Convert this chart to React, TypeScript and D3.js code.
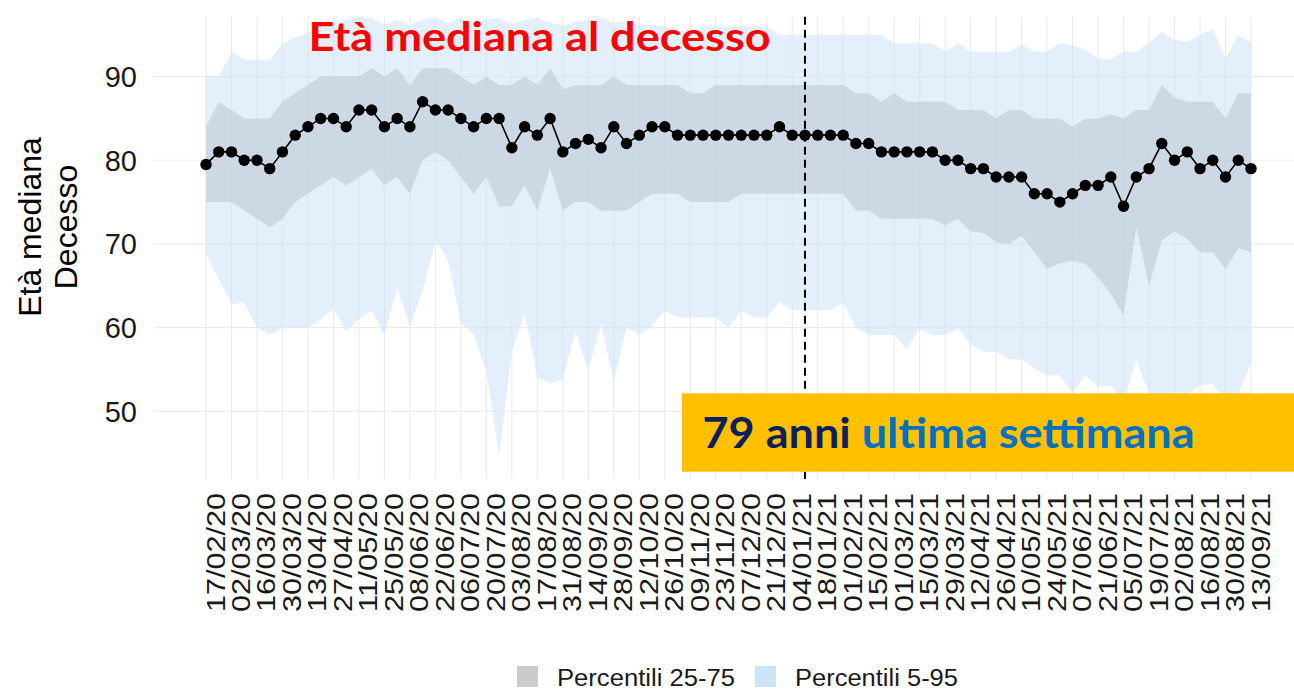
import React from "react";
import * as d3 from "d3";

// ---- DATA ----
const tickLabels = [
  "17/02/20","02/03/20","16/03/20","30/03/20","13/04/20","27/04/20","11/05/20","25/05/20",
  "08/06/20","22/06/20","06/07/20","20/07/20","03/08/20","17/08/20","31/08/20","14/09/20",
  "28/09/20","12/10/20","26/10/20","09/11/20","23/11/20","07/12/20","21/12/20","04/01/21",
  "18/01/21","01/02/21","15/02/21","01/03/21","15/03/21","29/03/21","12/04/21","26/04/21",
  "10/05/21","24/05/21","07/06/21","21/06/21","05/07/21","19/07/21","02/08/21","16/08/21",
  "30/08/21","13/09/21",
];

const median = [
  79.5, 81, 81, 80, 80, 79, 81, 83, 84, 85, 85, 84, 86, 86, 84, 85, 84, 87, 86, 86,
  85, 84, 85, 85, 81.5, 84, 83, 85, 81, 82, 82.5, 81.5, 84, 82, 83, 84, 84, 83, 83, 83,
  83, 83, 83, 83, 83, 84, 83, 83, 83, 83, 83, 82, 82, 81, 81, 81, 81, 81, 80, 80,
  79, 79, 78, 78, 78, 76, 76, 75, 76, 77, 77, 78, 74.5, 78, 79, 82, 80, 81, 79, 80,
  78, 80, 79,
];

const p75 = [
  84, 87, 86, 85, 85, 85, 87, 88, 89, 90, 90, 90, 90, 91, 90, 91, 89, 91, 91, 91,
  90, 89, 90, 89, 89, 90, 89, 91, 88.5, 89, 89, 89, 90, 89, 89, 89, 89, 89, 88, 88,
  89, 89, 89, 89, 89, 89, 89, 89, 89, 89, 89, 88, 88, 87, 88, 87, 87, 87, 87, 86,
  86, 86, 85, 86, 86, 85, 85, 85, 84, 85, 85, 85.5, 85, 86, 86, 89, 87.5, 87, 87, 87,
  85, 88, 88,
];

const p25 = [
  75, 75, 75, 74, 73, 72, 73, 75, 76, 77, 78, 77, 78, 79, 77, 78, 76, 80, 81, 80,
  78, 76, 78, 74.5, 74.5, 77, 74, 79, 74, 75, 75, 74, 74, 74, 75, 76, 76, 76, 75, 75,
  75, 75, 76, 76, 76, 76, 76, 76, 76, 76, 76, 74, 74, 73, 73, 73, 73, 73, 72.2, 73,
  71.5, 71.3, 70.2, 70, 71, 69, 67, 67.7, 68, 67.6, 66, 64, 61.5, 72, 65, 70.4, 71.5, 70.6, 69, 69,
  67, 69.5, 69,
];

const p95 = [
  90.1, 90, 92.9, 92, 92, 92, 94, 94.7, 95.3, 96, 96.4, 96.8, 97.1, 97, 96.2, 96.8, 96.2, 96.8, 97.1, 96.4,
  97, 96.5, 96.8, 97, 96.3, 96.8, 97, 96.5, 96, 96.6, 96.8, 97, 96.4, 96.6, 96.2, 96.2, 96, 95.5, 95.5, 96,
  96, 96, 96, 96, 96, 95, 95, 95, 95, 95, 95, 95, 95, 95, 94, 94, 94, 94, 93, 94,
  93, 93, 93, 93, 93.8, 93, 93, 94, 93.7, 93.2, 92.1, 92.1, 93, 93, 94, 95.4, 94.4, 94.1, 95, 95.7,
  92.2, 94.9, 94.1,
];

const p5 = [
  68.8, 65.8, 62.8, 63, 60, 59.1, 60, 60, 60, 61, 62.2, 59.6, 61, 62, 59.1, 64.7, 60.2, 64.4, 70.4, 68,
  60.6, 59.1, 54.7, 44.7, 57.1, 61.6, 54.1, 53.3, 53.9, 59.5, 54.9, 60.4, 53.5, 60, 59.1, 60.2, 62, 61.2, 61.2, 61.2,
  61.2, 60, 62, 61.2, 61.2, 63, 62.1, 62.1, 62.1, 62.1, 62.9, 60, 59.1, 59.1, 59.1, 57.4, 59.9, 59.1, 59.1, 59.9,
  58, 57.1, 57.1, 56.2, 56.2, 55.1, 54.3, 54.3, 52.1, 54.3, 52.9, 53.1, 51, 56.2, 52.1, 51, 52.3, 52, 53.1, 53.3,
  51, 52.1, 55.7,
];

const yTicks = [50, 60, 70, 80, 90];
const VLINE_WEEK = 47; // 11/01/21

const title = "Età mediana al decesso";
const boxNumber = "79 anni";
const boxText = "ultima settimana";
const legendItems = ["Percentili 25-75", "Percentili 5-95"];

// ---- LAYOUT ----
const W = 1294;
const H = 698;
const panel = { left: 154, right: 1303, top: 16.7, bottom: 479 };

export default function App() {
  const x = d3.scaleLinear().domain([0, median.length - 1]).range([206, 1251]);
  const y = d3.scaleLinear().domain([41.9, 97.16]).range([panel.bottom, panel.top]);
  const idx = median.map((_, i) => i);

  const outer = d3
    .area<number>()
    .x((i) => x(i))
    .y0((i) => y(p5[i]))
    .y1((i) => y(p95[i]))(idx) as string;
  const inner = d3
    .area<number>()
    .x((i) => x(i))
    .y0((i) => y(p25[i]))
    .y1((i) => y(p75[i]))(idx) as string;
  const line = d3
    .line<number>()
    .x((i) => x(i))
    .y((i) => y(median[i]))(idx) as string;

  const sans = "'Liberation Sans', Arial, sans-serif";
  const cal = "Lato, 'Open Sans', sans-serif";

  return (
    <svg
      width={W}
      height={H}
      style={{ position: "absolute", left: 0, top: 0, display: "block", background: "#fff" }}
    >
      <defs>
        <clipPath id="panelClip">
          <rect x={panel.left} y={panel.top} width={panel.right - panel.left} height={panel.bottom - panel.top} />
        </clipPath>
      </defs>
      <rect x={0} y={0} width={W} height={H} fill="#fff" />

      {/* grid */}
      {yTicks.map((t) => (
        <line key={"h" + t} x1={panel.left} x2={W} y1={y(t)} y2={y(t)} stroke="#ebebeb" strokeWidth={1.1} />
      ))}
      {tickLabels.map((_, k) => (
        <line
          key={"v" + k}
          x1={x(2 * k)}
          x2={x(2 * k)}
          y1={panel.top}
          y2={panel.bottom}
          stroke="#ebebeb"
          strokeWidth={1.1}
        />
      ))}

      <g clipPath="url(#panelClip)">
        <path d={outer} fill="#cce4f7" fillOpacity={0.55} />
        <path d={inner} fill="#bec8d7" fillOpacity={0.6} />
        <path d={line} fill="none" stroke="#000" strokeWidth={1.6} />
        {idx.map((i) => (
          <circle key={i} cx={x(i)} cy={y(median[i])} r={5.7} fill="#000" />
        ))}
      </g>

      {/* dashed reference line */}
      <line
        x1={x(VLINE_WEEK)}
        x2={x(VLINE_WEEK)}
        y1={panel.top}
        y2={panel.bottom}
        stroke="#000"
        strokeWidth={2}
        strokeDasharray="8,5"
      />

      {/* y ticks */}
      {yTicks.map((t) => (
        <text
          key={"yt" + t}
          x={137}
          y={y(t)}
          dy="0.36em"
          textAnchor="end"
          fontFamily={sans}
          fontSize={29}
          fill="#1a1a1a"
        >
          {t}
        </text>
      ))}

      {/* y title */}
      <g transform="translate(41,227) rotate(-90)">
        <text x={0} y={0} textAnchor="middle" fontFamily={sans} fontSize={32} fill="#000">
          Età mediana
        </text>
      </g>
      <g transform="translate(77,227) rotate(-90)">
        <text x={0} y={0} textAnchor="middle" fontFamily={sans} fontSize={32} fill="#000">
          Decesso
        </text>
      </g>

      {/* x tick labels */}
      {tickLabels.map((lab, k) => (
        <g key={"xt" + k} transform={`translate(${x(2 * k) + 18.5},493) rotate(-90)`}>
          <text
            x={0}
            y={0}
            textAnchor="end"
            fontFamily={sans}
            fontSize={25.5}
            fill="#1a1a1a"
            textLength={119}
            lengthAdjust="spacingAndGlyphs"
          >
            {lab}
          </text>
        </g>
      ))}

      {/* legend */}
      <rect x={517} y={666} width={21} height={21} fill="#cbcbcb" />
      <text x={557} y={686} fontFamily={sans} fontSize={23} fill="#1a1a1a" textLength={178} lengthAdjust="spacingAndGlyphs">
        {legendItems[0]}
      </text>
      <rect x={755} y={666} width={21} height={21} fill="#cce4f8" />
      <text x={795} y={686} fontFamily={sans} fontSize={23} fill="#1a1a1a" textLength={163} lengthAdjust="spacingAndGlyphs">
        {legendItems[1]}
      </text>

      {/* title overlay */}
      <text
        x={308.6}
        y={50.7}
        fontFamily={cal}
        fontWeight={700}
        fontSize={40}
        fill="#ff0000"
        textLength={462}
        lengthAdjust="spacingAndGlyphs"
      >
        {title}
      </text>

      {/* yellow box overlay */}
      <rect x={682} y={393.3} width={W - 682} height={78.4} fill="#ffc000" />
      <text
        x={702.5}
        y={448.3}
        fontFamily={cal}
        fontWeight={700}
        fontSize={42}
        textLength={492}
        lengthAdjust="spacingAndGlyphs"
      >
        <tspan fill="#0b1f5e">{boxNumber} </tspan>
        <tspan fill="#0070c0">{boxText}</tspan>
      </text>
    </svg>
  );
}
